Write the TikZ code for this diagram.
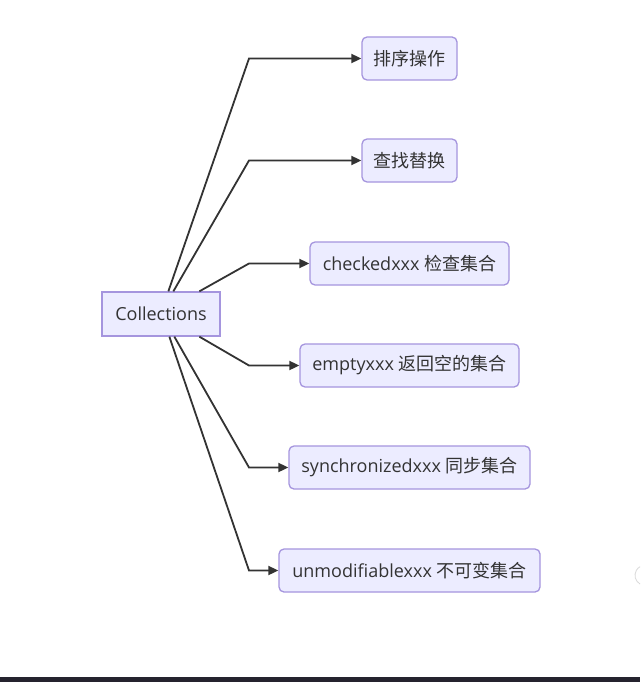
\documentclass[tikz,border=0pt]{standalone}
\usepackage{fontspec}
\setmainfont{Open Sans}
\newfontfamily\cjk{Noto Sans CJK SC}
\usetikzlibrary{arrows.meta}
\definecolor{nodefill}{HTML}{ECECFF}
\definecolor{nodeline}{HTML}{A595DE}
\definecolor{ink}{HTML}{333333}
\definecolor{barcol}{HTML}{25232E}
\tikzset{
  base/.style={draw=nodeline, fill=nodefill, line width=1.3pt, text=ink,
    font=\fontsize{18}{21}\selectfont, inner sep=0pt, minimum height=43pt, anchor=center},
  leaf/.style={base, rounded corners=5pt},
  root/.style={base, minimum width=118pt, minimum height=44pt},
  arr/.style={draw=ink, line width=1.8pt, -{Triangle[length=10pt,width=9pt]}, line join=miter}
}
\begin{document}
\begin{tikzpicture}[x=1pt,y=-1pt]
\useasboundingbox (0,0) rectangle (640,682);
\fill[white] (0,0) rectangle (640,682);
\fill[barcol] (0,677) rectangle (640,682);
\draw[gray!30, line width=0.8pt] (640,584) arc[start angle=120, end angle=240, radius=10];

\node[root] (c) at (161,314) {Collections};
\node[leaf, minimum width=95pt]  (n1) at (409.5,58.5) {\cjk 排序操作};
\node[leaf, minimum width=95pt]  (n2) at (409.5,160.5) {\cjk 查找替换};
\node[leaf, minimum width=199pt] (n3) at (409.5,263.5) {checkedxxx {\cjk 检查集合}};
\node[leaf, minimum width=219pt] (n4) at (409.5,365.5) {emptyxxx {\cjk 返回空的集合}};
\node[leaf, minimum width=241pt] (n5) at (409.5,467.5) {synchronizedxxx {\cjk 同步集合}};
\node[leaf, minimum width=261pt] (n6) at (409.5,570.5) {unmodifiablexxx {\cjk 不可变集合}};

\coordinate (k) at (249,0);
\draw[arr] ([xshift=67pt]c.north west) -- (k |- n1.west) -- (n1.west);
\draw[arr] ([xshift=72pt]c.north west) -- (k |- n2.west) -- (n2.west);
\draw[arr] ([xshift=98pt]c.north west) -- (k |- n3.west) -- (n3.west);
\draw[arr] ([xshift=98pt]c.south west) -- (k |- n4.west) -- (n4.west);
\draw[arr] ([xshift=73pt]c.south west) -- (k |- n5.west) -- (n5.west);
\draw[arr] ([xshift=68pt]c.south west) -- (k |- n6.west) -- (n6.west);
\end{tikzpicture}
\end{document}
